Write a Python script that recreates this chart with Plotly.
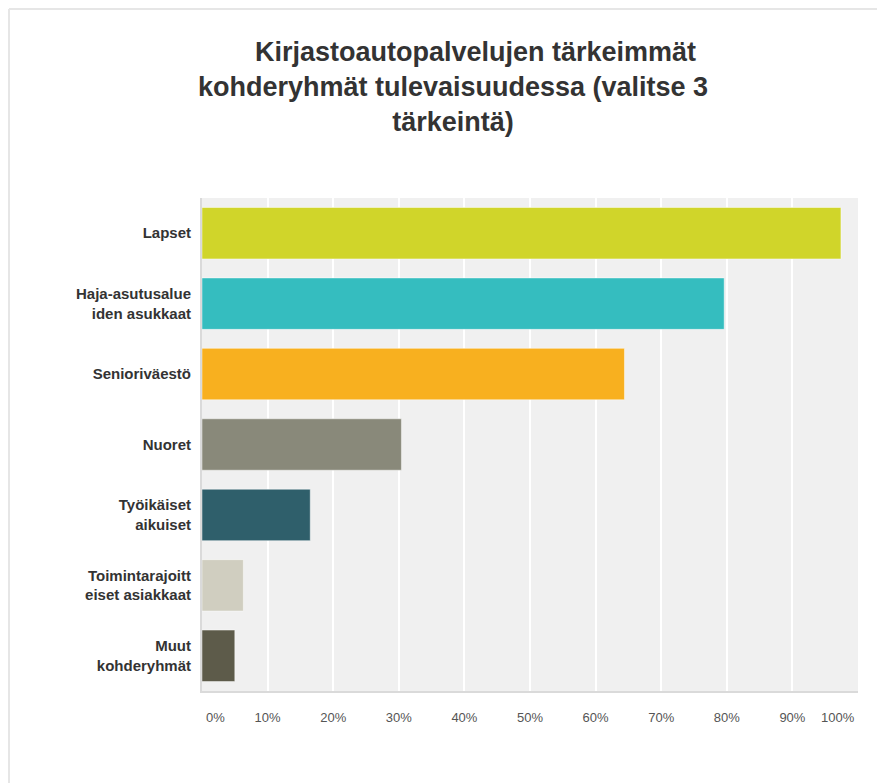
import plotly.graph_objects as go

categories = [
    "Lapset",
    "Haja-asutusalue<br>iden asukkaat",
    "Senioriväestö",
    "Nuoret",
    "Työikäiset<br>aikuiset",
    "Toimintarajoitt<br>eiset asiakkaat",
    "Muut<br>kohderyhmät",
]
values = [97.4, 79.6, 64.4, 30.4, 16.5, 6.3, 5.0]
colors = ["#D0D52A", "#35BDBF", "#F8B01F", "#89897A", "#2F5F6B", "#D0CEC0", "#5D5B4A"]
tick_vals = [10, 20, 30, 40, 50, 60, 70, 80, 90]
tick_text = ["10%", "20%", "30%", "40%", "50%", "60%", "70%", "80%", "90%"]
end_vals = [0, 100]
end_text = ["0%", "100%"]

# page body has an 8px margin, so the figure is drawn 8px lower/right
W, H = 877, 775
L, R, T, B = 194, 27, 190, 92
PW, PH = W - L - R, H - T - B
FONT = "Liberation Sans, Arial, sans-serif"

fig = go.Figure()
fig.add_trace(go.Bar(
    x=values,
    y=categories,
    orientation="h",
    marker=dict(color=colors, line=dict(color="rgba(255,255,255,0.45)", width=1)),
    width=0.73,
    hoverinfo="x+y",
))

annotations = []
for v, t, anchor, shift in zip(end_vals, end_text, ["left", "right"], [2, -1]):
    annotations.append(dict(
        x=v, xref="x", y=0, yref="paper",
        text=t, showarrow=False,
        xanchor=anchor, yanchor="middle",
        xshift=shift, yshift=-26,
        font=dict(family=FONT, size=13, color="#555555"),
    ))

fig.update_layout(
    width=W,
    height=H,
    margin=dict(l=L, r=R, t=T, b=B),
    paper_bgcolor="white",
    plot_bgcolor="#F0F0F0",
    showlegend=False,
    title=dict(
        text="&nbsp;" * 6 + "Kirjastoautopalvelujen tärkeimmät<br>kohderyhmät tulevaisuudessa (valitse 3<br>tärkeintä)",
        font=dict(family=FONT, size=27, color="#333333", weight="bold"),
        x=445 / W,
        xref="container",
        xanchor="center",
        y=1 - 53 / H,
        yref="container",
        yanchor="top",
    ),
    xaxis=dict(
        range=[0, 100],
        tickvals=tick_vals,
        ticktext=tick_text,
        showgrid=True,
        gridcolor="white",
        gridwidth=1.5,
        zeroline=False,
        showline=True,
        linecolor="#DADADA",
        linewidth=2,
        ticks="",
        ticklabelstandoff=13,
        automargin=False,
        tickfont=dict(family=FONT, size=13, color="#555555"),
        fixedrange=True,
    ),
    yaxis=dict(
        autorange="reversed",
        showgrid=False,
        zeroline=False,
        showline=True,
        linecolor="#DADADA",
        linewidth=2,
        ticks="",
        ticklabelstandoff=6,
        automargin=False,
        tickfont=dict(family=FONT, size=15, color="#333333", weight="bold"),
        fixedrange=True,
    ),
    annotations=annotations,
    shapes=[
        dict(type="line", xref="paper", yref="paper",
             x0=(1 - L) / PW, x1=(W + 5 - L) / PW,
             y0=(H - B - 1) / PH, y1=(H - B - 1) / PH,
             line=dict(color="#E6E6E6", width=2)),
        dict(type="line", xref="paper", yref="paper",
             x0=(1 - L) / PW, x1=(1 - L) / PW,
             y0=(H - B - 1) / PH, y1=(-B - 5) / PH,
             line=dict(color="#E6E6E6", width=2)),
    ],
)

fig.write_html("out.html")
